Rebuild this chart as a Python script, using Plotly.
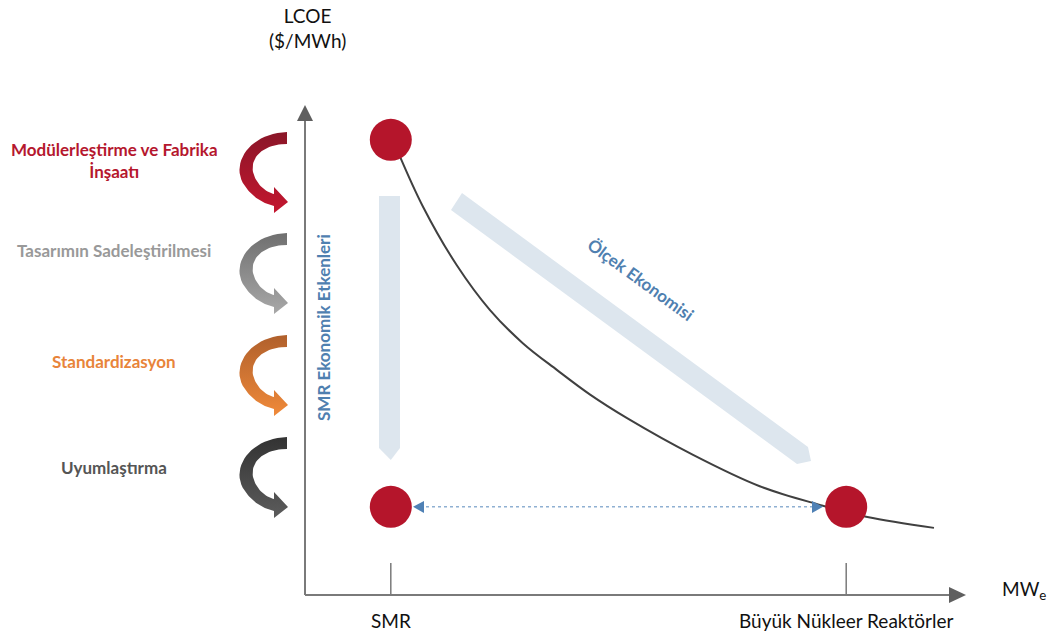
import numpy as np
import plotly.graph_objects as go

W, H = 1050, 633
# pixel <-> data mapping of the (hidden) axes: origin of the drawn axes and scale
OX, OY = 305, 595
SX, SY = 6.6, 4.9


def X(px):
    return (px - OX) / SX


def Y(py):
    return (OY - py) / SY


# ---------------- data ----------------
categories = ["SMR", "Büyük Nükleer Reaktörler"]
category_size = [13.0, 82.0]          # position on the MWe axis
smr_lcoe_start = 92.9                  # SMR before economic drivers
smr_lcoe_end = 18.0                    # SMR after economic drivers
large_lcoe = 18.0                      # large reactor LCOE

curve_size = [14.1, 17.9, 23.0, 28.0, 33.0, 38.2, 43.2, 48.8, 58.8, 68.9, 78.0, 85.2, 95.3]
curve_lcoe = [90.4, 79.2, 67.3, 58.2, 51.4, 45.9, 40.9, 36.1, 28.6, 22.2, 18.4, 15.9, 13.7]

factors = ["Modülerleştirme ve Fabrika<br>İnşaatı",
           "Tasarımın Sadeleştirilmesi",
           "Standardizasyon",
           "Uyumlaştırma"]
factor_colors = ["#b5172e", "#999999", "#e8843a", "#555555"]
factor_grad_top = ["#8a1628", "#6f6f6f", "#b0602c", "#333333"]
factor_grad_bottom = ["#c4162f", "#a8a8a8", "#f08a3a", "#5c5c5c"]

axis_title_y = "LCOE<br>($/MWh)"
axis_title_x = "MW<sub>e</sub>"
vertical_label = "SMR Ekonomik Etkenleri"
diagonal_label = "Ölçek Ekonomisi"

# ---------------- styling / layout geometry ----------------
RED = "#b5152b"
AXIS_GRAY = "#7a7a7a"
LIGHT = "#dde6ee"
BLUE_TXT = "#4f80b0"
FONT = "Lato"

label_px_x = 114
label_px_y = [160, 250, 361, 467]
arrow_anchor_px = [(287, 132), (287, 233), (287, 335), (287, 437)]

fig = go.Figure()


def cubic(p0, p1, p2, p3, n=24):
    t = np.linspace(0, 1, n)[:, None]
    p0, p1, p2, p3 = map(np.array, (p0, p1, p2, p3))
    return ((1 - t) ** 3) * p0 + 3 * ((1 - t) ** 2) * t * p1 + 3 * (1 - t) * t ** 2 * p2 + t ** 3 * p3


def curved_arrow(ax, ay):
    pts = [np.array([[0, 0]])]
    pts.append(cubic((0, 0), (-38, 1), (-60, 34), (-40, 57)))
    pts.append(cubic((-40, 57), (-32, 67), (-22, 72), (-13, 74)))
    pts.append(np.array([[-13, 81], [1, 70], [-13, 55], [-13, 62]]))
    pts.append(cubic((-13, 62), (-22, 60), (-31, 52), (-34, 40)))
    pts.append(cubic((-34, 40), (-37, 24), (-22, 12), (0, 12)))
    pts.append(np.array([[0, 0]]))
    p = np.vstack(pts)
    return [X(ax + dx) for dx in p[:, 0]], [Y(ay + dy) for dy in p[:, 1]]


# curved factor arrows with vertical gradients
for (ax, ay), top, bot in zip(arrow_anchor_px, factor_grad_top, factor_grad_bottom):
    xs, ys = curved_arrow(ax, ay)
    fig.add_trace(go.Scatter(
        x=xs, y=ys, mode="lines", fill="toself", line=dict(width=0),
        fillgradient=dict(type="vertical", colorscale=[[0, bot], [1, top]]),
        hoverinfo="skip"))

# cost curve
fig.add_trace(go.Scatter(x=curve_size, y=curve_lcoe, mode="lines",
                         line=dict(color="#404040", width=2, shape="spline", smoothing=1.0),
                         hoverinfo="skip"))

# points
fig.add_trace(go.Scatter(
    x=[category_size[0], category_size[0], category_size[1]],
    y=[smr_lcoe_start, smr_lcoe_end, large_lcoe],
    mode="markers", marker=dict(size=42, color=RED, line=dict(width=0)),
    hoverinfo="skip"))

shapes = []
# light vertical arrow (SMR economic drivers)
xl, xr, yt, yb, tip = X(379), X(400), Y(196), Y(448), Y(460)
xm = category_size[0]
shapes.append(dict(type="path", layer="below", xref="x", yref="y",
                   path=f"M{xl},{yt} L{xr},{yt} L{xr},{yb} L{xm},{tip} L{xl},{yb} Z",
                   fillcolor=LIGHT, line=dict(width=0)))
# light diagonal arrow (economy of scale)
dpts = [(462, 193), (808, 447), (811, 461), (797, 464), (451, 210)]
path = "M" + " L".join(f"{X(a)},{Y(b)}" for a, b in dpts) + " Z"
shapes.append(dict(type="path", layer="below", xref="x", yref="y", path=path,
                   fillcolor=LIGHT, line=dict(width=0)))

# axes lines
shapes.append(dict(type="line", xref="x", yref="y", x0=0, y0=0, x1=0, y1=Y(118),
                   line=dict(color=AXIS_GRAY, width=2)))
shapes.append(dict(type="line", xref="x", yref="y", x0=0, y0=0, x1=X(952), y1=0,
                   line=dict(color=AXIS_GRAY, width=2)))
shapes.append(dict(type="path", xref="x", yref="y",
                   path=f"M{X(305)},{Y(105)} L{X(297)},{Y(121)} L{X(313)},{Y(121)} Z",
                   fillcolor="#5f5f5f", line=dict(width=0)))
shapes.append(dict(type="path", xref="x", yref="y",
                   path=f"M{X(966)},{Y(595)} L{X(949)},{Y(587)} L{X(949)},{Y(603)} Z",
                   fillcolor="#5f5f5f", line=dict(width=0)))
# category ticks
for cx in category_size:
    shapes.append(dict(type="line", xref="x", yref="y", x0=cx, y0=0, x1=cx, y1=Y(563),
                       line=dict(color=AXIS_GRAY, width=1.5)))

# dotted double arrow between SMR and large reactor
shapes.append(dict(type="line", xref="x", yref="y", x0=X(420), y0=smr_lcoe_end,
                   x1=X(815), y1=large_lcoe,
                   line=dict(color="#8fb0d2", width=1.5, dash="dot")))
yc = smr_lcoe_end
shapes.append(dict(type="path", xref="x", yref="y",
                   path=f"M{X(413)},{yc} L{X(424)},{Y(501)} L{X(424)},{Y(513)} Z",
                   fillcolor="#4f81b5", line=dict(width=0)))
shapes.append(dict(type="path", xref="x", yref="y",
                   path=f"M{X(823)},{yc} L{X(812)},{Y(501)} L{X(812)},{Y(513)} Z",
                   fillcolor="#4f81b5", line=dict(width=0)))

annotations = []
for txt, col, py in zip(factors, factor_colors, label_px_y):
    annotations.append(dict(x=X(label_px_x), y=Y(py), text=f"<b>{txt}</b>", showarrow=False,
                            xanchor="center", yanchor="middle",
                            font=dict(family=FONT, size=17, color=col)))
annotations.append(dict(x=X(307), y=Y(28), text=axis_title_y, showarrow=False,
                        xanchor="center", yanchor="middle",
                        font=dict(family=FONT, size=19, color="#111111")))
annotations.append(dict(x=X(1024), y=Y(590), text=axis_title_x, showarrow=False,
                        xanchor="center", yanchor="middle",
                        font=dict(family=FONT, size=19, color="#111111")))
for cat, cx in zip(categories, category_size):
    annotations.append(dict(x=cx, y=Y(620), text=cat, showarrow=False,
                            xanchor="center", yanchor="middle",
                            font=dict(family=FONT, size=19, color="#111111")))
annotations.append(dict(x=X(323), y=Y(328), text=f"<b>{vertical_label}</b>", showarrow=False,
                        textangle=-90, xanchor="center", yanchor="middle",
                        font=dict(family=FONT, size=17, color=BLUE_TXT)))
annotations.append(dict(x=X(641), y=Y(279), text=f"<b>{diagonal_label}</b>", showarrow=False,
                        textangle=36, xanchor="center", yanchor="middle",
                        font=dict(family=FONT, size=17, color=BLUE_TXT)))

fig.update_layout(
    width=W, height=H, margin=dict(l=0, r=0, t=0, b=0),
    paper_bgcolor="white", plot_bgcolor="white", showlegend=False,
    xaxis=dict(visible=False, range=[X(0), X(W)], fixedrange=True),
    yaxis=dict(visible=False, range=[Y(H), Y(0)], fixedrange=True),
    shapes=shapes, annotations=annotations, hovermode=False,
)

fig.write_html("out.html")
